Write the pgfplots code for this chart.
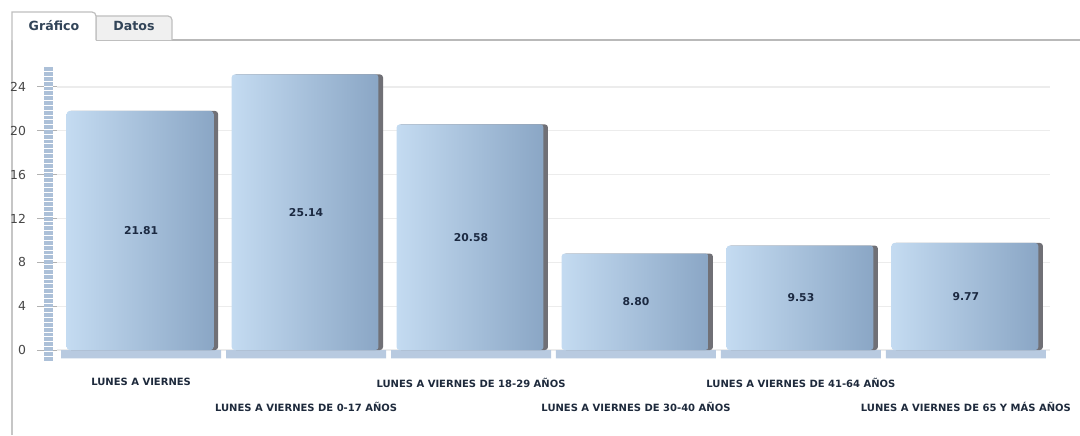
\documentclass[border=0pt]{standalone}
\usepackage{pgfplots}
\pgfplotsset{compat=1.18}
\usepackage{fontspec}
\setmainfont{DejaVu Sans}
\definecolor{barL}{RGB}{196,219,241}
\definecolor{barR}{RGB}{138,166,197}
\definecolor{shadowc}{RGB}{112,112,118}
\definecolor{platc}{RGB}{184,202,224}
\definecolor{stripec}{RGB}{172,192,216}
\definecolor{gridc}{RGB}{236,236,236}
\definecolor{valc}{RGB}{28,42,66}
\definecolor{catc}{RGB}{30,42,60}
\definecolor{tabtext}{RGB}{50,68,88}
\pgfplotsset{
  mybar/.style={ybar, bar width=0.89, bar shift=-0.006, left color=barL, right color=barR, draw=none, rounded corners=1.5pt},
}
\begin{document}
\begin{tikzpicture}[x=0.5pt,y=0.5pt]
% page frame in pixel units (y up, 435 high)
\fill[white] (0,0) rectangle (1080,435);
\useasboundingbox (0,0) rectangle (1080,435);
% panel borders
\draw[gray!45, line width=0.6pt] (12,0) -- (12,395);
\draw[gray!55, line width=0.8pt] (96,395) -- (1080,395);
% Datos tab
\draw[gray!50, line width=0.6pt, fill=gray!12] (96,395) -- (96,419) [rounded corners=2pt]-- (172,419) -- (172,395);
\node[font=\bfseries\fontsize{6.3pt}{7pt}\selectfont, text=tabtext] at (134,409) {Datos};
% Grafico tab
\draw[gray!50, line width=0.6pt, fill=white] (12,395) -- (12,423) [rounded corners=2pt]-- (96,423) -- (96,395);
\node[font=\bfseries\fontsize{6.3pt}{7pt}\selectfont, text=tabtext] at (54,409) {Gráfico};
\begin{axis}[
  at={(28.5pt,37pt)}, anchor=south west,
  scale only axis, width=496.5pt, height=148pt,
  xmin=-0.51, xmax=5.51, ymin=-1, ymax=26,
  axis line style={draw=none},
  clip=false,
  ytick={0,4,...,24},
  ytick pos=left,
  ymajorgrids, grid style={gridc, line width=0.6pt},
  ytick style={draw=gray!60, line width=0.5pt},
  major tick length=10pt,
  tick align=outside,
  yticklabel style={font=\fontsize{6.2pt}{7pt}\selectfont, text=black!72, xshift=-2pt},
  /pgf/number format/assume math mode=true,
  xtick={0,2,4},
  xticklabels={LUNES A VIERNES, LUNES A VIERNES DE 18-29 AÑOS, LUNES A VIERNES DE 41-64 AÑOS},
  extra x ticks={1,3,5},
  extra x tick labels={LUNES A VIERNES DE 0-17 AÑOS, LUNES A VIERNES DE 30-40 AÑOS, LUNES A VIERNES DE 65 Y MÁS AÑOS},
  extra x tick style={xticklabel style={yshift=-12pt}, grid=none},
  x tick style={draw=none},
  xticklabel style={font=\bfseries\fontsize{5pt}{6pt}\selectfont, text=catc, anchor=north, yshift=5pt},
]
% left stripe
\fill[stripec] (axis cs:-0.5909,-1) rectangle (axis cs:-0.5364,25.8);
\pgfplotsinvokeforeach{0,...,60}{
  \draw[white, line width=0.35pt] (axis cs:-0.5909,-0.55+0.44*#1) -- (axis cs:-0.5364,-0.55+0.44*#1);
}
% platforms
\addplot[ybar, bar width=0.97, fill=platc, draw=none] coordinates {(0,-0.75) (1,-0.75) (2,-0.75) (3,-0.75) (4,-0.75) (5,-0.75)};
% shadow
\addplot[ybar, bar width=0.909, bar shift=0.012, fill=shadowc, draw=none, rounded corners=1.5pt] coordinates {(0,21.81) (1,25.14) (2,20.58) (3,8.80) (4,9.53) (5,9.77)};
% bars (one plot each so each bar gets its own gradient)
\addplot[mybar] coordinates {(0,21.81)};
\addplot[mybar] coordinates {(1,25.14)};
\addplot[mybar] coordinates {(2,20.58)};
\addplot[mybar] coordinates {(3,8.80)};
\addplot[mybar] coordinates {(4,9.53)};
\addplot[mybar] coordinates {(5,9.77)};
% value labels
\addplot[only marks, mark=none, nodes near coords, point meta=explicit symbolic,
  every node near coord/.style={anchor=center, font=\bfseries\fontsize{5.4pt}{6pt}\selectfont, text=valc}]
  coordinates {(0,10.905)[21.81] (1,12.57)[25.14] (2,10.29)[20.58] (3,4.40)[8.80] (4,4.765)[9.53] (5,4.885)[9.77]};
\end{axis}
\end{tikzpicture}
\end{document}
